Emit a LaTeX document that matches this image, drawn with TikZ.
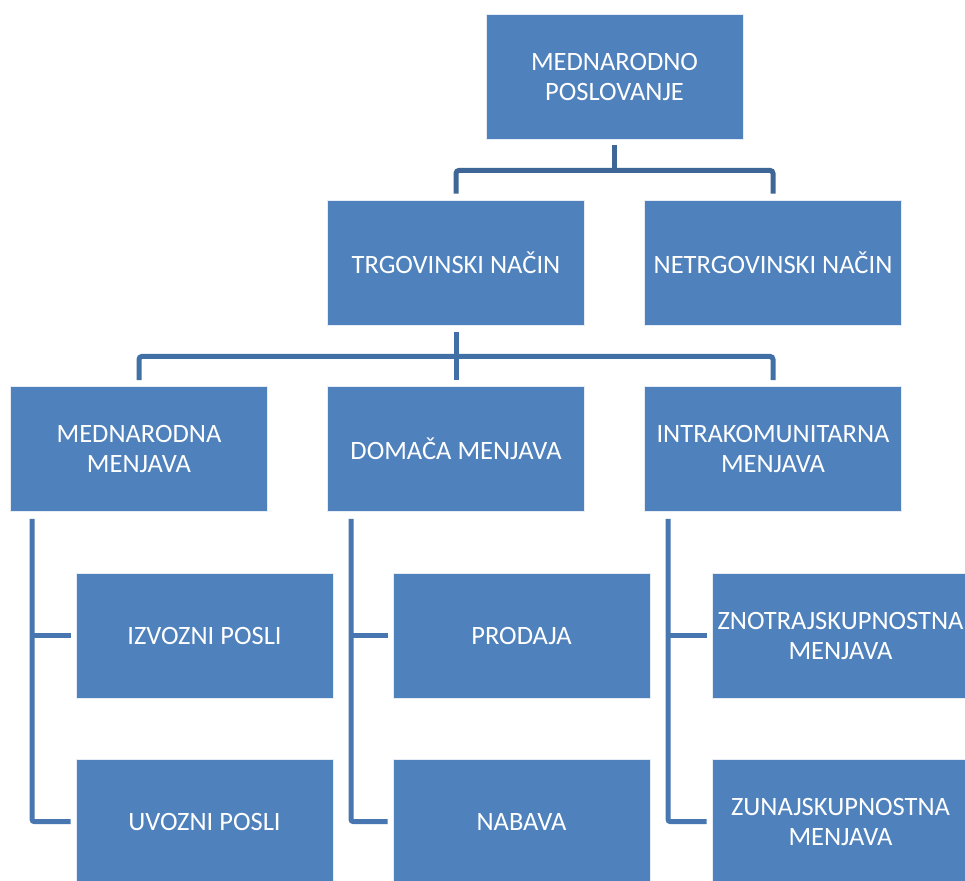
\documentclass[tikz,border=0pt]{standalone}
\usepackage{fontspec}
\setmainfont{Carlito}
\usetikzlibrary{calc}
\definecolor{boxblue}{HTML}{4F81BD}
\definecolor{lineA}{HTML}{3E6798}
\definecolor{lineB}{HTML}{4170A7}
\definecolor{lineC}{HTML}{4876B0}
\tikzset{
  box/.style={rectangle, fill=boxblue, draw=white!85!boxblue, line width=0.8pt,
    minimum width=257pt, minimum height=125pt, inner sep=0pt, align=center,
    text=white, font=\fontsize{26.5}{30}\selectfont},
  connA/.style={draw=lineA, line width=5pt, rounded corners=3pt},
  connB/.style={draw=lineB, line width=5pt, rounded corners=3pt},
  connC/.style={draw=lineC, line width=5pt, rounded corners=2pt},
}
\begin{document}
\begin{tikzpicture}[x=1pt,y=-1pt]
\useasboundingbox (0,0) rectangle (965,880);
\fill[white] (0,0) rectangle (965,880);
% nodes
\node[box] (top) at (614.5,76.5) {MEDNARODNO\\POSLOVANJE};
\node[box] (trg) at (456,262.5) {TRGOVINSKI NAČIN};
\node[box] (ntrg) at (773,262.5) {NETRGOVINSKI NAČIN};
\node[box] (mm) at (139,449) {MEDNARODNA\\MENJAVA};
\node[box] (dm) at (456,449) {DOMAČA MENJAVA};
\node[box] (im) at (773,449) {INTRAKOMUNITARNA\\MENJAVA};
\node[box] (izv) at (204.5,635.5) {IZVOZNI POSLI};
\node[box] (uvo) at (204.5,821.5) {UVOZNI POSLI};
\node[box] (pro) at (521.5,635.5) {PRODAJA};
\node[box] (nab) at (521.5,821.5) {NABAVA};
\node[box] (zno) at (840.5,635.5) {ZNOTRAJSKUPNOSTNA\\MENJAVA};
\node[box] (zun) at (840.5,821.5) {ZUNAJSKUPNOSTNA\\MENJAVA};
% level 1 -> 2
\coordinate (h1) at ($(top.south)+(0,31)$);
\draw[connA] ($(top.south)+(0,6)$) -- (h1);
\draw[connA] ($(trg.north)+(0,-6)$) |- (h1) -| ($(ntrg.north)+(0,-6)$);
% level 2 -> 3
\coordinate (h2) at ($(trg.south)+(0,31)$);
\draw[connB] ($(trg.south)+(0,7)$) -- ($(dm.north)+(0,-6)$);
\draw[connB] ($(mm.north)+(0,-6)$) |- (h2) -| ($(im.north)+(0,-6)$);
% level 3 -> 4
\coordinate (v1) at ($(mm.south west)+(22,7)$);
\draw[connC] (v1) |- ($(uvo.west)+(-5,0)$);
\draw[connC] ($(izv.west)+(-5,0)$) -- (izv.west -| v1);
\coordinate (v2) at ($(dm.south west)+(24,7)$);
\draw[connC] (v2) |- ($(nab.west)+(-5,0)$);
\draw[connC] ($(pro.west)+(-5,0)$) -- (pro.west -| v2);
\coordinate (v3) at ($(im.south west)+(24,7)$);
\draw[connC] (v3) |- ($(zun.west)+(-5,0)$);
\draw[connC] ($(zno.west)+(-5,0)$) -- (zno.west -| v3);
\end{tikzpicture}
\end{document}
